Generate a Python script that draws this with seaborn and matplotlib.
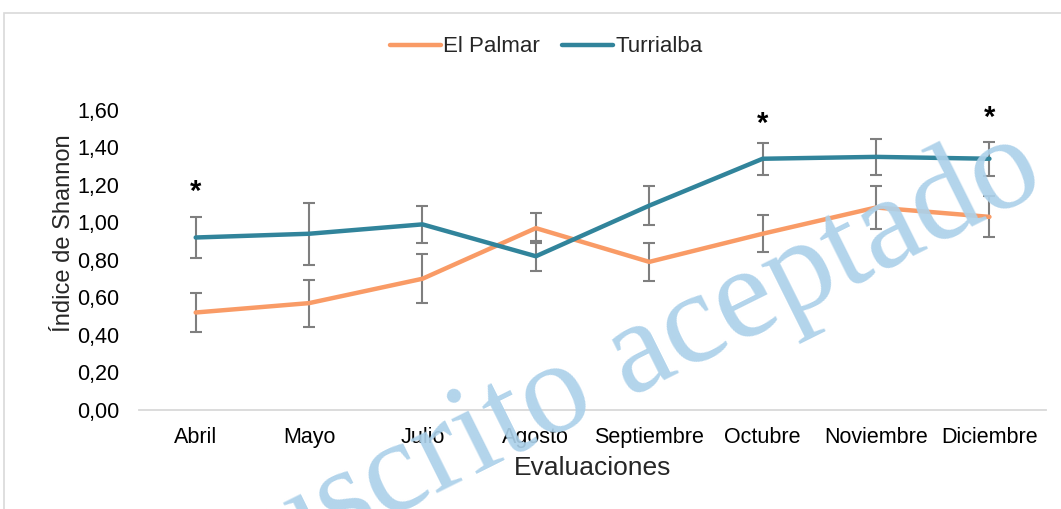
import matplotlib
matplotlib.use("Agg")
import matplotlib.pyplot as plt
import seaborn as sns
import pandas as pd
from matplotlib.patches import Rectangle

meses = ["Abril", "Mayo", "Julio", "Agosto", "Septiembre", "Octubre", "Noviembre", "Diciembre"]
el_palmar = [0.52, 0.57, 0.70, 0.97, 0.79, 0.94, 1.08, 1.03]
el_palmar_err = [0.105, 0.125, 0.13, 0.08, 0.10, 0.10, 0.115, 0.11]
turrialba = [0.92, 0.94, 0.99, 0.82, 1.09, 1.34, 1.35, 1.34]
turrialba_err = [0.11, 0.165, 0.10, 0.08, 0.105, 0.085, 0.095, 0.09]
asteriscos_x = ["Abril", "Octubre", "Diciembre"]
asteriscos_y = [1.165, 1.525, 1.56]
yticks = [0.0, 0.2, 0.4, 0.6, 0.8, 1.0, 1.2, 1.4, 1.6]

sns.set_style("white")
plt.rcParams["font.family"] = ["Liberation Sans", "DejaVu Sans"]

c_palmar = "#F99B66"
c_turri = "#31849B"
c_err = "#7F7F7F"

df = pd.DataFrame({
    "Mes": meses * 2,
    "Indice": el_palmar + turrialba,
    "Sitio": ["El Palmar"] * len(meses) + ["Turrialba"] * len(meses),
})

fig = plt.figure(figsize=(10.61, 5.09), dpi=100)
ax = fig.add_axes([0.131, 0.1945, 0.855, 0.5894])

sns.lineplot(data=df, x="Mes", y="Indice", hue="Sitio",
             palette={"El Palmar": c_palmar, "Turrialba": c_turri},
             linewidth=3.2, ax=ax, sort=False, zorder=3)

ax.errorbar(meses, el_palmar, yerr=el_palmar_err, fmt="none", ecolor=c_err,
            elinewidth=1.5, capsize=4.5, capthick=1.5, zorder=2)
ax.errorbar(meses, turrialba, yerr=turrialba_err, fmt="none", ecolor=c_err,
            elinewidth=1.5, capsize=4.5, capthick=1.5, zorder=2)

for xm, ym in zip(asteriscos_x, asteriscos_y):
    ax.text(xm, ym, "*", ha="center", va="center", fontsize=21,
            fontweight="bold", color="black", clip_on=False)

ax.set_xlim(-0.5, len(meses) - 0.5)
ax.set_ylim(0, 1.6)
ax.set_yticks(yticks)
ax.set_yticklabels([f"{v:.2f}".replace(".", ",") for v in yticks])
ax.tick_params(axis="both", labelsize=15.5, length=0, colors="black")
ax.tick_params(axis="y", pad=14)
ax.tick_params(axis="x", pad=12)
for s in ["top", "right", "left"]:
    ax.spines[s].set_visible(False)
ax.spines["bottom"].set_color("#D9D9D9")
ax.spines["bottom"].set_linewidth(1.3)
ax.grid(False)

ax.set_xlabel("Evaluaciones", fontsize=19, labelpad=6)
ax.set_ylabel("Índice de Shannon", fontsize=17)
ax.yaxis.set_label_coords(-0.071, 0.59)

handles, labels = ax.get_legend_handles_labels()
ax.legend(handles, labels, loc="center", bbox_to_anchor=(0.515, 0.908),
          bbox_transform=fig.transFigure, ncol=2, frameon=False,
          fontsize=16, handlelength=2.3, handletextpad=0.1, columnspacing=1.0)

fig.patches.append(Rectangle((4 / 1061, -0.05), 1.2, 1 - 13 / 509 + 0.05,
                             transform=fig.transFigure, fill=False,
                             edgecolor="#D9D9D9", linewidth=1.2, zorder=0))

fig.text(1048 / 1061, 1 - 189 / 509, "Manuscrito aceptado", fontsize=95,
         family=["Liberation Serif", "DejaVu Serif"], color="#ACD1EA",
         rotation=26.5, rotation_mode="anchor", ha="right", va="baseline",
         alpha=0.92, zorder=10)

fig.savefig("out.png", dpi=100)
